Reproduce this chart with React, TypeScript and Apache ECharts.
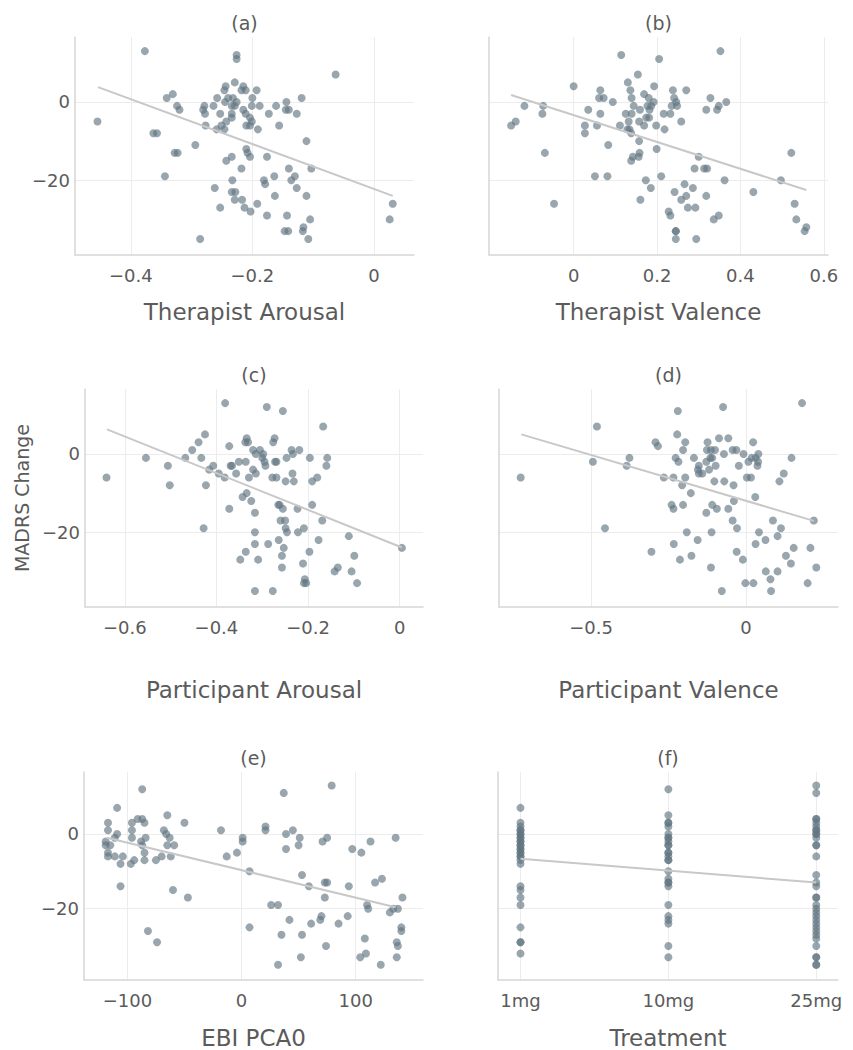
import React, { useEffect, useRef } from "react";
import * as echarts from "echarts";

// ---------- data ----------
const yTicks = [-20, 0];

const therapistArousal: [number, number][] = [
  [-0.377, 13], [-0.455, -5], [-0.226, 12], [-0.226, 11], [-0.063, 7], [-0.229, 5], [-0.244, 4], [-0.246, 3],
  [-0.215, 4], [-0.218, 3], [-0.211, 3], [-0.193, 3], [-0.331, 2], [-0.341, 1], [-0.258, 1], [-0.240, 1],
  [-0.232, 1], [-0.245, 0], [-0.226, 0], [-0.200, 1], [-0.144, 0], [-0.119, 1], [-0.324, -1], [-0.320, -2],
  [-0.279, -1], [-0.281, -2], [-0.278, -3], [-0.264, -1], [-0.234, -1], [-0.229, -1], [-0.201, -1], [-0.188, -1],
  [-0.161, -1], [-0.215, -2], [-0.211, -3], [-0.253, -3], [-0.234, -3], [-0.234, -4], [-0.173, -3], [-0.145, -2],
  [-0.140, -2], [-0.127, -3], [-0.204, -4], [-0.201, -5], [-0.243, -5], [-0.277, -6], [-0.251, -6], [-0.210, -6],
  [-0.204, -6], [-0.156, -6], [-0.259, -7], [-0.246, -7], [-0.191, -7], [-0.363, -8], [-0.357, -8], [-0.111, -10],
  [-0.294, -11], [-0.210, -12], [-0.208, -13], [-0.328, -13], [-0.323, -13], [-0.234, -14], [-0.243, -15], [-0.204, -14],
  [-0.176, -14], [-0.218, -17], [-0.140, -17], [-0.103, -17], [-0.344, -19], [-0.164, -19], [-0.130, -19], [-0.181, -20],
  [-0.179, -21], [-0.136, -20], [-0.233, -20], [-0.262, -22], [-0.127, -22], [-0.234, -23], [-0.228, -23], [-0.163, -24],
  [-0.111, -24], [-0.229, -25], [-0.217, -25], [-0.192, -26], [0.031, -26], [-0.253, -27], [-0.213, -27], [-0.203, -28],
  [-0.176, -29], [-0.143, -29], [-0.105, -30], [0.026, -30], [-0.116, -32], [-0.117, -33], [-0.147, -33], [-0.141, -33],
  [-0.286, -35], [-0.108, -35],
];
const therapistArousalFit: [number, number][] = [[-0.454, 3.8], [0.031, -24.0]];
const therapistArousalTicks = [-0.4, -0.2, 0];

const therapistValence: [number, number][] = [
  [0.352, 13], [0.114, 12], [0.205, 11], [0.154, 7], [0.130, 5], [0.0, 4], [0.193, 4], [0.064, 3],
  [0.136, 3], [0.238, 3], [0.270, 3], [0.169, 2], [0.061, 1], [0.072, 1], [0.139, 1], [0.180, 1],
  [0.241, 1], [0.328, 1], [0.094, 0], [0.192, 0], [0.246, 0], [0.366, 0], [-0.118, -1], [-0.073, -1],
  [0.144, -1], [0.177, -1], [0.186, -1], [0.235, -1], [0.248, -1], [0.348, -1], [0.035, -2], [0.159, -2],
  [0.182, -2], [0.318, -2], [0.344, -2], [-0.075, -3], [0.064, -3], [0.125, -3], [0.139, -3], [0.216, -3],
  [0.232, -3], [0.174, -4], [0.181, -4], [-0.139, -5], [0.132, -5], [0.157, -5], [0.258, -5], [-0.150, -6],
  [0.027, -6], [0.056, -6], [0.111, -6], [0.169, -6], [0.198, -6], [0.129, -7], [0.134, -7], [0.218, -7],
  [0.027, -8], [0.138, -8], [0.157, -10], [0.083, -11], [0.199, -12], [-0.069, -13], [0.158, -13], [0.522, -13],
  [0.142, -14], [0.156, -14], [0.138, -15], [0.300, -14], [0.290, -17], [0.313, -17], [0.320, -17], [0.051, -19],
  [0.081, -19], [0.210, -19], [0.173, -20], [0.362, -20], [0.497, -20], [0.185, -22], [0.266, -21], [0.286, -22],
  [0.242, -23], [0.270, -24], [0.318, -24], [0.431, -23], [0.258, -25], [0.160, -25], [-0.047, -26], [0.530, -26],
  [0.274, -27], [0.292, -27], [0.228, -28], [0.232, -29], [0.348, -29], [0.336, -30], [0.534, -30], [0.558, -32],
  [0.554, -33], [0.245, -33], [0.245, -33], [0.245, -35], [0.294, -35],
];
const therapistValenceFit: [number, number][] = [[-0.150, 1.8], [0.558, -22.5]];
const therapistValenceTicks = [0, 0.2, 0.4, 0.6];

const participantArousal: [number, number][] = [
  [-0.381, 13], [-0.290, 12], [-0.255, 11], [-0.167, 7], [-0.425, 5], [-0.439, 3], [-0.334, 4], [-0.337, 3],
  [-0.331, 3], [-0.273, 4], [-0.276, 3], [-0.372, 2], [-0.453, 1], [-0.320, 1], [-0.305, 1], [-0.236, 1],
  [-0.219, 1], [-0.233, 0], [-0.314, 0], [-0.298, 0], [-0.554, -1], [-0.468, -1], [-0.433, -1], [-0.300, -1],
  [-0.295, -2], [-0.247, -1], [-0.196, -1], [-0.158, -1], [-0.351, -2], [-0.336, -2], [-0.272, -2], [-0.269, -2],
  [-0.293, -3], [-0.506, -3], [-0.407, -3], [-0.366, -3], [-0.369, -3], [-0.160, -3], [-0.416, -4], [-0.320, -4],
  [-0.395, -5], [-0.357, -5], [-0.314, -5], [-0.234, -5], [-0.640, -6], [-0.382, -6], [-0.329, -6], [-0.278, -6],
  [-0.269, -6], [-0.180, -6], [-0.249, -7], [-0.231, -7], [-0.191, -7], [-0.502, -8], [-0.423, -8], [-0.334, -10],
  [-0.343, -11], [-0.324, -12], [-0.265, -13], [-0.262, -13], [-0.191, -13], [-0.255, -14], [-0.372, -14], [-0.316, -15],
  [-0.223, -14], [-0.260, -17], [-0.250, -17], [-0.169, -17], [-0.428, -19], [-0.249, -19], [-0.246, -20], [-0.209, -19],
  [-0.222, -20], [-0.316, -20], [-0.111, -21], [-0.264, -22], [-0.177, -22], [-0.316, -23], [-0.287, -23], [-0.253, -24],
  [0.005, -24], [-0.197, -25], [-0.336, -25], [-0.257, -26], [-0.099, -26], [-0.348, -27], [-0.309, -27], [-0.211, -28],
  [-0.257, -29], [-0.135, -29], [-0.142, -30], [-0.105, -30], [-0.207, -32], [-0.209, -33], [-0.204, -33], [-0.093, -33],
  [-0.316, -35], [-0.277, -35],
];
const participantArousalFit: [number, number][] = [[-0.639, 6.3], [0.005, -23.9]];
const participantArousalTicks = [-0.6, -0.4, -0.2, 0];

const participantValence: [number, number][] = [
  [0.181, 13], [-0.074, 12], [-0.220, 11], [-0.481, 7], [-0.222, 5], [-0.087, 4], [-0.057, 4], [-0.292, 3],
  [-0.284, 2], [-0.196, 3], [-0.124, 3], [0.023, 3], [-0.203, 1], [-0.126, 1], [-0.113, 1], [-0.100, 1],
  [-0.043, 1], [-0.031, 1], [-0.071, 0], [-0.008, 0], [0.040, 0], [-0.376, -1], [-0.227, -1], [-0.168, -1],
  [-0.115, -1], [-0.109, -1], [0.018, -1], [0.031, -1], [0.147, -1], [-0.494, -2], [-0.218, -2], [-0.128, -2],
  [0.008, -2], [0.039, -2], [-0.385, -3], [-0.152, -3], [-0.098, -3], [-0.023, -3], [0.037, -3], [-0.155, -4],
  [-0.119, -4], [-0.152, -5], [-0.141, -5], [0.122, -5], [-0.727, -6], [-0.265, -6], [-0.234, -6], [-0.196, -6],
  [0.003, -6], [0.016, -6], [-0.102, -7], [-0.070, -7], [0.108, -7], [-0.206, -8], [-0.040, -8], [-0.178, -10],
  [0.030, -11], [-0.039, -12], [-0.240, -13], [-0.203, -13], [-0.109, -13], [-0.234, -14], [-0.094, -14], [-0.057, -14],
  [-0.128, -15], [-0.043, -17], [0.087, -17], [0.219, -17], [-0.455, -19], [-0.029, -19], [0.113, -19], [-0.191, -20],
  [-0.111, -20], [0.042, -20], [0.102, -21], [-0.156, -22], [0.063, -22], [-0.233, -23], [0.031, -23], [0.154, -24],
  [0.208, -24], [-0.305, -25], [-0.030, -25], [-0.176, -26], [0.129, -26], [-0.213, -27], [-0.010, -27], [0.145, -28],
  [-0.113, -29], [0.227, -29], [0.064, -30], [0.102, -30], [0.079, -32], [-0.002, -33], [0.024, -33], [0.199, -33],
  [-0.078, -35], [0.081, -35],
];
const participantValenceFit: [number, number][] = [[-0.725, 5.0], [0.219, -17.1]];
const participantValenceTicks = [-0.5, 0];

const ebiPca0: [number, number][] = [
  [79, 13], [-87, 12], [37, 11], [-109, 7], [-65, 5], [-91, 4], [-87, 4], [-96, 3],
  [-85, 3], [-50, 3], [-117, 3], [-117, 1], [-96, 1], [-68, 1], [-18, 1], [21, 2],
  [21, 1], [45, 1], [-109, 0], [-111, -1], [-66, 0], [-63, -1], [39, 0], [-84, -1],
  [-96, -1], [1, -1], [1, -2], [51, -1], [75, -1], [135, -1], [-119, -2], [-88, -2],
  [71, -2], [113, -2], [-119, -3], [-115, -3], [-87, -3], [-65, -3], [-59, -3], [50, -3],
  [39, -4], [97, -4], [-117, -5], [-85, -5], [-4, -5], [105, -5], [-117, -6], [-111, -6],
  [-104, -6], [-70, -6], [-62, -6], [-13, -6], [-94, -7], [-85, -7], [-75, -7], [-106, -8],
  [-97, -8], [7, -10], [53, -11], [123, -12], [117, -13], [73, -13], [75, -13], [59, -14],
  [-106, -14], [94, -14], [-60, -15], [-47, -17], [73, -17], [141, -17], [26, -19], [32, -19],
  [110, -19], [111, -20], [133, -20], [137, -20], [130, -21], [93, -22], [70, -22], [69, -23],
  [42, -23], [61, -24], [85, -24], [7, -25], [140, -25], [140, -26], [-82, -26], [35, -27],
  [53, -27], [108, -28], [-74, -29], [136, -29], [137, -30], [74, -30], [109, -32], [104, -33],
  [52, -33], [136, -33], [32, -35], [122, -35],
];
const ebiPca0Fit: [number, number][] = [[-118, -1.0], [135, -19.6]];
const ebiPca0Ticks = [-100, 0, 100];

const treatments = ["1mg", "10mg", "25mg"];
const change1mg = [7, 3, 2, 1, 1, 0, 0, -1, -1, -2, -2, -3, -3, -4, -4, -5, -5, -6, -6, -7, -8, -14, -15, -17, -19, -25, -29, -29, -32];
const change10mg = [12, 5, 3, 3, 2, 0, -1, -1, -2, -3, -3, -5, -5, -6, -7, -7, -10, -12, -13, -13, -14, -19, -22, -23, -24, -30, -33];
const change25mg = [13, 11, 4, 4, 3, 2, 1, 1, 0, 0, -1, -3, -3, -6, -11, -13, -14, -17, -17, -19, -20, -21, -22, -23, -24, -25, -26, -27, -28, -30, -33, -33, -35, -35];
const treatmentFit: [number, number][] = [[0, -6.6], [2, -13.0]];
const treatmentTicks = [0, 1, 2];

// ---------- styling / layout ----------
const FONT = "DejaVu Sans";
const TEXT = "#5b5b5b";
const POINT = "rgba(96,116,129,0.8)";

const fmt = (v: number) => (v < 0 ? "\u2212" + String(Math.abs(v)) : String(v));

const panels = [
  { title: "(a)", name: "Therapist Arousal", data: therapistArousal, fit: therapistArousalFit, ticks: therapistArousalTicks, min: -0.492, max: 0.066, grid: { left: 75, top: 37, width: 339, height: 218 }, nameGap: 45, showY: true },
  { title: "(b)", name: "Therapist Valence", data: therapistValence, fit: therapistValenceFit, ticks: therapistValenceTicks, min: -0.203, max: 0.61, grid: { left: 489, top: 37, width: 339, height: 218 }, nameGap: 45, showY: false },
  { title: "(c)", name: "Participant Arousal", data: participantArousal, fit: participantArousalFit, ticks: participantArousalTicks, min: -0.687, max: 0.051, grid: { left: 85, top: 389, width: 338, height: 218 }, nameGap: 71, showY: true },
  { title: "(d)", name: "Participant Valence", data: participantValence, fit: participantValenceFit, ticks: participantValenceTicks, min: -0.797, max: 0.297, grid: { left: 499, top: 389, width: 339, height: 218 }, nameGap: 71, showY: false },
  { title: "(e)", name: "EBI PCA0", data: ebiPca0, fit: ebiPca0Fit, ticks: ebiPca0Ticks, min: -138, max: 159, grid: { left: 84, top: 772, width: 339, height: 217 }, nameGap: 46, showY: true },
  {
    title: "(f)", name: "Treatment",
    data: [
      ...change1mg.map((v) => [0, v] as [number, number]),
      ...change10mg.map((v) => [1, v] as [number, number]),
      ...change25mg.map((v) => [2, v] as [number, number]),
    ],
    fit: treatmentFit, ticks: treatmentTicks, min: -0.152, max: 2.147,
    grid: { left: 498, top: 772, width: 340, height: 217 }, nameGap: 46, showY: false, cat: true,
  },
];

export default function App() {
  const ref = useRef<HTMLDivElement>(null);
  useEffect(() => {
    document.body.style.margin = "0";
    if (!ref.current) return;
    const chart = echarts.init(ref.current, undefined, { renderer: "svg" });
    const grids: any[] = [];
    const xAxes: any[] = [];
    const yAxes: any[] = [];
    const series: any[] = [];
    const graphics: any[] = [];
    panels.forEach((p: any, i: number) => {
      grids.push({ ...p.grid, containLabel: false });
      xAxes.push({
        type: "value", gridIndex: i, min: p.min, max: p.max,
        name: p.name, nameLocation: "middle", nameGap: p.nameGap,
        nameTextStyle: { fontFamily: FONT, fontSize: 23, color: TEXT },
        axisLine: { show: true, onZero: false, lineStyle: { color: "#d6d6d6", width: 1.5 } },
        axisTick: { show: false, customValues: p.ticks },
        axisLabel: {
          customValues: p.ticks, margin: 11, fontFamily: FONT, fontSize: 18, color: TEXT,
          formatter: (v: number) => (p.cat ? treatments[Math.round(v)] : fmt(v)),
        },
        splitLine: { show: true, lineStyle: { color: "#ececec", width: 1 } },
      });
      yAxes.push({
        type: "value", gridIndex: i, min: -39.1, max: 16.6,
        axisLine: { show: true, onZero: false, lineStyle: { color: "#d6d6d6", width: 1.5 } },
        axisTick: { show: false, customValues: yTicks },
        axisLabel: {
          show: p.showY, customValues: yTicks, margin: 5, fontFamily: FONT, fontSize: 18, color: TEXT,
          formatter: (v: number) => fmt(v),
        },
        splitLine: { show: true, lineStyle: { color: "#ececec", width: 1 } },
      });
      series.push({
        type: "scatter", xAxisIndex: i, yAxisIndex: i, data: p.data, symbolSize: 8,
        itemStyle: { color: POINT }, silent: true,
      });
      series.push({
        type: "line", xAxisIndex: i, yAxisIndex: i, data: p.fit, showSymbol: false, symbol: "none",
        lineStyle: { color: "#c8c8c8", width: 2 }, silent: true,
      });
      graphics.push({
        type: "text", x: p.grid.left + p.grid.width / 2, y: p.grid.top - 14,
        style: { text: p.title, fontFamily: FONT, fontSize: 19, fill: TEXT, textAlign: "center", textVerticalAlign: "middle" },
      });
    });
    graphics.push({
      type: "text", x: 22, y: 498, rotation: Math.PI / 2,
      style: { text: "MADRS Change", fontFamily: FONT, fontSize: 19, fill: TEXT, textAlign: "center", textVerticalAlign: "middle" },
    });
    chart.setOption({
      animation: false,
      grid: grids,
      xAxis: xAxes,
      yAxis: yAxes,
      series,
      graphic: graphics,
    });
    return () => chart.dispose();
  }, []);
  return <div ref={ref} style={{ width: 853, height: 1050 }} />;
}
